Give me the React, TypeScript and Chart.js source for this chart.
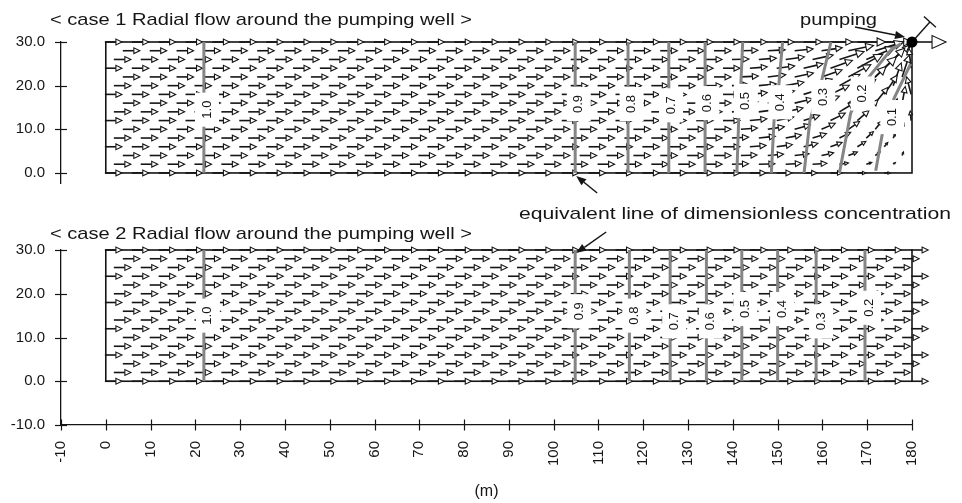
import React, { useEffect, useRef } from 'react';
import { Chart, registerables } from 'chart.js';
Chart.register(...registerables);

// ---------------- data ----------------
const xTickValues = [-10, 0, 10, 20, 30, 40, 50, 60, 70, 80, 90, 100, 110, 120, 130, 140, 150, 160, 170, 180];
const yTickValuesCase1 = [0, 10, 20, 30];
const yTickValuesCase2 = [-10, 0, 10, 20, 30];

const domainX = [0, 180];
const domainY = [0, 30];

// finite-element mesh rows (m) and node layout of the velocity vectors
const meshRowY = [30, 28, 26, 24, 22, 20, 18, 16, 14, 12, 10, 8, 6, 4, 2, 0];
const meshRowFirstNodeX = [-0.2, 3.8, 1.8];
const meshNodeSpacingX = 6;
const uniformVelocity = [3.8, 0];

// case 1: vectors deflected toward the pumping well  [nodeX, dx, dy]
const case1WellVelocity: Record<number, number[][]> = {
  30: [[143.8, 3.8, 0], [149.8, 3.9, 0], [155.8, 4.1, 0], [161.8, 4.9, 0], [167.8, 6.3, 0], [173.8, 6.2, 0]],
  28: [[141.8, 3.8, 0.1], [147.8, 3.9, 0.2], [153.8, 4.1, 0.4], [159.8, 4.6, 0.7], [165.8, 5.6, 1.2], [171.8, 6.3, 2.0], [177.8, 2.2, 1.8]],
  26: [[139.8, 3.8, 0.1], [145.8, 3.9, 0.3], [151.8, 4.2, 0.6], [157.8, 4.6, 1.0], [163.8, 5.5, 1.8], [169.8, 6.5, 2.8], [175.8, 3.6, 3.2]],
  24: [[143.8, 3.9, 0.3], [149.8, 4.0, 0.5], [155.8, 4.3, 1.0], [161.8, 4.9, 1.8], [167.8, 5.7, 3.2], [173.8, 4.6, 4.6], [179.8, -0.5, 4.5]],
  22: [[141.8, 3.9, 0.2], [147.8, 4.0, 0.5], [153.8, 4.2, 0.9], [159.8, 4.6, 1.6], [165.8, 5.0, 2.8], [171.8, 4.7, 4.6], [177.8, 1.6, 5.0]],
  20: [[139.8, 3.8, 0.2], [145.8, 3.9, 0.4], [151.8, 4.1, 0.8], [157.8, 4.4, 1.5], [163.8, 4.6, 2.6], [169.8, 4.4, 4.4], [175.8, 1.8, 5.2]],
  18: [[143.8, 3.9, 0.4], [149.8, 4.0, 0.8], [155.8, 4.1, 1.3], [161.8, 4.2, 2.1], [167.8, 4.1, 3.4], [173.8, 2.9, 4.4], [179.8, -1.0, 4.0]],
  16: [[141.8, 3.8, 0.3], [147.8, 3.9, 0.6], [153.8, 4.0, 1.0], [159.8, 4.0, 1.6], [165.8, 3.7, 2.6], [171.8, 2.8, 3.6], [177.8, 0.7, 3.8]],
  14: [[139.8, 3.8, 0.2], [145.8, 3.9, 0.5], [151.8, 3.9, 0.9], [157.8, 3.8, 1.4], [163.8, 3.4, 2.1], [169.8, 2.6, 2.8], [175.8, 0.9, 3.0]],
  12: [[143.8, 3.8, 0.4], [149.8, 3.8, 0.8], [155.8, 3.6, 1.2], [161.8, 3.3, 1.7], [167.8, 2.6, 2.3], [173.8, 1.3, 2.4], [179.8, -0.2, 2.2]],
  10: [[141.8, 3.7, 0.3], [147.8, 3.7, 0.6], [153.8, 3.5, 1.0], [159.8, 3.1, 1.4], [165.8, 2.5, 1.8], [171.8, 1.5, 1.9], [177.8, 0.4, 1.4]],
  8: [[139.8, 3.7, 0.2], [145.8, 3.7, 0.4], [151.8, 3.5, 0.7], [157.8, 3.1, 1.0], [163.8, 2.5, 1.3], [169.8, 1.6, 1.5], [175.8, 0.5, 1.0]],
  6: [[143.8, 3.6, 0.3], [149.8, 3.5, 0.5], [155.8, 3.2, 0.8], [161.8, 2.6, 1.0], [167.8, 1.9, 1.2], [173.8, 0.8, 1.0]],
  4: [[141.8, 3.6, 0.1], [147.8, 3.5, 0.3], [153.8, 3.2, 0.4], [159.8, 2.7, 0.6], [165.8, 2.0, 0.8], [171.8, 1.1, 0.8], [177.8, 0.3, 0.8]],
  2: [[139.8, 3.7, 0.1], [145.8, 3.6, 0.1], [151.8, 3.5, 0.2], [157.8, 3.2, 0.2], [163.8, 2.0, 0.3], [169.8, 1.2, 0.4], [175.8, 0.5, 0.4]],
  0: [[143.8, 3.6, 0], [149.8, 3.4, 0], [155.8, 3.0, 0], [161.8, 2.6, 0], [167.8, 1.9, 0], [173.8, 1.4, 0]],
};

const wellPosition = [180, 30];
const wellVectors = [[7.6, 0], [4.0, 4.6]];

// dimensionless concentration contours
const case1ContourLabels = ['1.0', '0.9', '0.8', '0.7', '0.6', '0.5', '0.4', '0.3', '0.2', '0.1'];
const case1ContourLines = [
  [[21.9, 0], [21.9, 30]],
  [[104.8, 0], [104.8, 30]],
  [[116.6, 0], [116.6, 30]],
  [[125.7, 0], [125.7, 30]],
  [[133.8, 0], [133.8, 30]],
  [[140.9, 0], [141.3, 12], [141.8, 20.5], [142.2, 30]],
  [[148.6, 0], [149.2, 12], [150.3, 20.5], [151.1, 30]],
  [[155.9, 0], [157.2, 12], [159.9, 21.5], [161.9, 30]],
  [[163.8, 0], [166.3, 13.7], [170.4, 22], [175.3, 28.2], [177.5, 29.6]],
  [[171.9, 0.5], [173.4, 9.1], [176.0, 17.1], [179.7, 25.0]],
];
const case1LabelAt = [
  [22.6, 14.5], [105.6, 15.8], [117.4, 15.8], [126.2, 15.5], [134.3, 16.0],
  [142.9, 16.5], [150.6, 16.2], [160.2, 17.4], [169.0, 18.2], [175.6, 12.8],
];

const case2ContourLabels = ['1.0', '0.9', '0.8', '0.7', '0.6', '0.5', '0.4', '0.3', '0.2'];
const case2ContourX = [21.9, 104.8, 116.9, 126.0, 134.1, 142.0, 150.0, 158.6, 169.5];
const case2LabelAt = [
  [22.8, 15.0], [105.7, 16.0], [118.0, 15.0], [126.9, 13.7], [135.1, 13.7],
  [142.8, 16.5], [151.0, 16.5], [159.7, 13.7], [170.4, 16.8],
];

// ---------------- drawing helpers ----------------
const FONT = '"Liberation Sans", Arial, Helvetica, sans-serif';
const INK = '#151515';
const CONTOUR = '#858585';

function buildField(caseNo: number): number[][] {
  const out: number[][] = [];
  meshRowY.forEach((y, i) => {
    const first = meshRowFirstNodeX[i % meshRowFirstNodeX.length];
    const overrides = caseNo === 1 ? case1WellVelocity[y] || [] : [];
    for (let k = 0; ; k++) {
      const x = Math.round((first + k * meshNodeSpacingX) * 10) / 10;
      if (x > domainX[1]) break;
      const ov = overrides.find((o) => Math.abs(o[0] - x) < 0.05);
      if (ov) { out.push([x, y, ov[1], ov[2]]); continue; }
      if (caseNo === 1 && x + uniformVelocity[0] > domainX[1]) continue;
      out.push([x, y, uniformVelocity[0], uniformVelocity[1]]);
    }
  });
  return out;
}

function drawVector(ctx: CanvasRenderingContext2D, x0: number, y0: number, x1: number, y1: number, kind: string) {
  const dx = x1 - x0, dy = y1 - y0;
  const L = Math.hypot(dx, dy);
  if (L < 0.8) return;
  const ux = dx / L, uy = dy / L;
  const px = -uy, py = ux;
  ctx.strokeStyle = INK;
  if (kind === 'bar') {
    ctx.lineWidth = 1.4;
    ctx.beginPath(); ctx.moveTo(x0, y0); ctx.lineTo(x1, y1); ctx.stroke();
    ctx.beginPath(); ctx.moveTo(x1 + px * 8, y1 + py * 8); ctx.lineTo(x1 - px * 8, y1 - py * 8); ctx.stroke();
    return;
  }
  let hl = L <= 20 ? Math.min(6, L * 0.4) : 6 + (L - 20) * 0.3;
  let hw = hl * 0.48;
  if (kind === 'big') { hl = 14; hw = 6.5; }
  const bx = x1 - ux * hl, by = y1 - uy * hl;
  ctx.lineWidth = 1.6;
  ctx.beginPath(); ctx.moveTo(x0, y0); ctx.lineTo(bx, by); ctx.stroke();
  ctx.lineWidth = 1.1;
  ctx.beginPath();
  ctx.moveTo(x1, y1);
  ctx.lineTo(bx + px * hw, by + py * hw);
  ctx.lineTo(bx - px * hw, by - py * hw);
  ctx.closePath();
  ctx.fillStyle = '#fff';
  ctx.fill();
  ctx.stroke();
}

function drawSolidArrow(ctx: CanvasRenderingContext2D, x0: number, y0: number, x1: number, y1: number) {
  const dx = x1 - x0, dy = y1 - y0;
  const L = Math.hypot(dx, dy);
  const ux = dx / L, uy = dy / L;
  const px = -uy, py = ux;
  const hl = 10, hw = 4;
  ctx.strokeStyle = INK; ctx.fillStyle = INK; ctx.lineWidth = 1.5;
  ctx.beginPath(); ctx.moveTo(x0, y0); ctx.lineTo(x1 - ux * hl, y1 - uy * hl); ctx.stroke();
  ctx.beginPath();
  ctx.moveTo(x1, y1);
  ctx.lineTo(x1 - ux * hl + px * hw, y1 - uy * hl + py * hw);
  ctx.lineTo(x1 - ux * hl - px * hw, y1 - uy * hl - py * hw);
  ctx.closePath(); ctx.fill();
}

function drawStretchedText(ctx: CanvasRenderingContext2D, text: string, left: number, right: number, baseline: number, size: number) {
  ctx.save();
  ctx.font = `${size}px ${FONT}`;
  ctx.fillStyle = INK;
  ctx.textAlign = 'left';
  ctx.textBaseline = 'alphabetic';
  const w = ctx.measureText(text).width;
  ctx.translate(left, baseline);
  ctx.scale((right - left) / w, 1);
  ctx.fillText(text, 0, 0);
  ctx.restore();
}

function makePlugin(caseNo: number, offsetTop: number) {
  const arrows = buildField(caseNo);
  const labels = caseNo === 1 ? case1ContourLabels : case2ContourLabels;
  const labelAt = caseNo === 1 ? case1LabelAt : case2LabelAt;
  return {
    id: 'field' + caseNo,
    beforeDatasetsDraw(chart: any) {
      const { ctx, scales } = chart;
      const X = (v: number) => scales.x.getPixelForValue(v);
      const Y = (v: number) => scales.y.getPixelForValue(v);
      ctx.save();
      ctx.strokeStyle = INK;
      ctx.lineWidth = 1.6;
      ctx.strokeRect(X(domainX[0]), Y(domainY[1]), X(domainX[1]) - X(domainX[0]), Y(domainY[0]) - Y(domainY[1]));
      for (const [ax, ay, u, v] of arrows) drawVector(ctx, X(ax), Y(ay), X(ax + u), Y(ay + v), 'open');
      if (caseNo === 1) {
        drawVector(ctx, X(wellPosition[0]), Y(wellPosition[1]), X(wellPosition[0] + wellVectors[0][0]), Y(wellPosition[1] + wellVectors[0][1]), 'big');
        drawVector(ctx, X(wellPosition[0]), Y(wellPosition[1]), X(wellPosition[0] + wellVectors[1][0]), Y(wellPosition[1] + wellVectors[1][1]), 'bar');
      }
      ctx.restore();
    },
    afterDatasetsDraw(chart: any) {
      const { ctx, scales } = chart;
      const X = (v: number) => scales.x.getPixelForValue(v);
      const Y = (v: number) => scales.y.getPixelForValue(v);
      ctx.save();
      // contour labels
      ctx.font = `13px ${FONT}`;
      labels.forEach((t, i) => {
        const px = X(labelAt[i][0]), py = Y(labelAt[i][1]);
        const tw = ctx.measureText(t).width;
        ctx.fillStyle = '#fff';
        ctx.fillRect(px - 12, py - tw / 2 - 8, 24, tw + 16);
        ctx.save();
        ctx.translate(px, py);
        ctx.rotate(-Math.PI / 2);
        ctx.fillStyle = INK;
        ctx.textAlign = 'center';
        ctx.textBaseline = 'middle';
        ctx.fillText(t, 0, 0);
        ctx.restore();
      });
      // axis tick marks crossing the axis lines
      ctx.strokeStyle = INK;
      ctx.lineWidth = 1.2;
      const axX = scales.y.left + scales.y.width;
      const yt = caseNo === 1 ? yTickValuesCase1 : yTickValuesCase2;
      yt.forEach((v) => {
        const py = Math.round(Y(v)) + 0.5;
        ctx.beginPath(); ctx.moveTo(axX - 6, py); ctx.lineTo(axX + 6, py); ctx.stroke();
      });
      if (caseNo === 2) {
        const axY = chart.chartArea.bottom;
        xTickValues.forEach((v) => {
          const px = Math.round(X(v)) + 0.5;
          ctx.beginPath(); ctx.moveTo(px, axY - 5.5); ctx.lineTo(px, axY + 5.5); ctx.stroke();
        });
      }
      if (caseNo === 1) {
        // pumping well
        const wx = X(wellPosition[0]), wy = Y(wellPosition[1]);
        ctx.fillStyle = '#000';
        ctx.beginPath(); ctx.arc(wx, wy, 5.5, 0, Math.PI * 2); ctx.fill();
        drawSolidArrow(ctx, wx - 57, wy - 15, wx - 7, wy - 5);
        drawStretchedText(ctx, 'pumping', 800, 877, 25 - offsetTop, 16);
        drawStretchedText(ctx, '< case 1 Radial flow around the pumping well >', 50, 472, 25 - offsetTop, 17);
        const tx = X(case1ContourLines[1][0][0]) + 1, ty = Y(0) + 3;
        drawSolidArrow(ctx, tx + 21, ty + 17, tx, ty);
      } else {
        drawStretchedText(ctx, '< case 2 Radial flow around the pumping well >', 50, 472, 239 - offsetTop, 17);
        drawStretchedText(ctx, 'equivalent line of dimensionless concentration', 519, 951, 219 - offsetTop, 17);
        const tx = X(case2ContourX[1]) + 1, ty = Y(30) + 3;
        drawSolidArrow(ctx, tx + 30, ty - 21, tx, ty);
      }
      ctx.restore();
    },
  };
}

function yAxis(min: number, ticks: number[]) {
  return {
    type: 'linear',
    min,
    max: domainY[1],
    afterBuildTicks: (s: any) => { s.ticks = ticks.map((v) => ({ value: v })); },
    afterFit: (s: any) => { s.width = 61; },
    ticks: { padding: 16, color: INK, font: { size: 15, family: FONT }, callback: (v: any) => Number(v).toFixed(1) },
    grid: { display: false, drawTicks: false },
    border: { display: true, color: INK, width: 1.3 },
  };
}

export default function App() {
  const refA = useRef<HTMLCanvasElement>(null);
  const refB = useRef<HTMLCanvasElement>(null);

  useEffect(() => {
    Chart.defaults.font.family = FONT;
    const lineDs = (pts: number[][]) => ({
      data: pts.map(([x, y]) => ({ x, y })),
      borderColor: CONTOUR,
      borderWidth: 3,
      pointRadius: 0,
      fill: false,
      tension: 0,
    });
    const base = {
      responsive: false,
      animation: false,
      devicePixelRatio: 1,
      events: [],
      plugins: { legend: { display: false }, tooltip: { enabled: false }, title: { display: false } },
    };
    const chartA = new Chart(refA.current as HTMLCanvasElement, {
      type: 'line',
      data: { datasets: case1ContourLines.map(lineDs) },
      options: {
        ...base,
        layout: { padding: { left: 0, right: 50, top: 42, bottom: 27 } },
        scales: {
          x: { type: 'linear', min: -10, max: 180, display: false },
          y: yAxis(-2.3, yTickValuesCase1),
        },
      } as any,
      plugins: [makePlugin(1, 0)],
    });
    const chartB = new Chart(refB.current as HTMLCanvasElement, {
      type: 'line',
      data: { datasets: case2ContourX.map((cx) => lineDs([[cx, domainY[0]], [cx, domainY[1]]])) },
      options: {
        ...base,
        layout: { padding: { left: 0, right: 50, top: 50, bottom: 0 } },
        scales: {
          x: {
            type: 'linear',
            min: -10,
            max: 180,
            afterBuildTicks: (s: any) => { s.ticks = xTickValues.map((v) => ({ value: v })); },
            afterFit: (s: any) => { s.height = 78; },
            ticks: { autoSkip: false, minRotation: 90, maxRotation: 90, padding: 16, color: INK, font: { size: 15, family: FONT }, callback: (v: any) => String(v) },
            grid: { display: false, drawTicks: false },
            border: { display: true, color: INK, width: 1.3 },
            title: { display: true, text: '(m)', color: INK, font: { size: 16, family: FONT }, padding: { top: 0, bottom: 2 } },
          },
          y: yAxis(-10, yTickValuesCase2),
        },
      } as any,
      plugins: [makePlugin(2, 200)],
    });
    return () => { chartA.destroy(); chartB.destroy(); };
  }, []);

  return (
    <div style={{ position: 'absolute', left: 0, top: 0, width: 962, height: 503, background: '#fff' }}>
      <canvas ref={refA} width={962} height={210} style={{ position: 'absolute', left: 0, top: 0, width: 962, height: 210 }} />
      <canvas ref={refB} width={962} height={303} style={{ position: 'absolute', left: 0, top: 200, width: 962, height: 303 }} />
    </div>
  );
}
